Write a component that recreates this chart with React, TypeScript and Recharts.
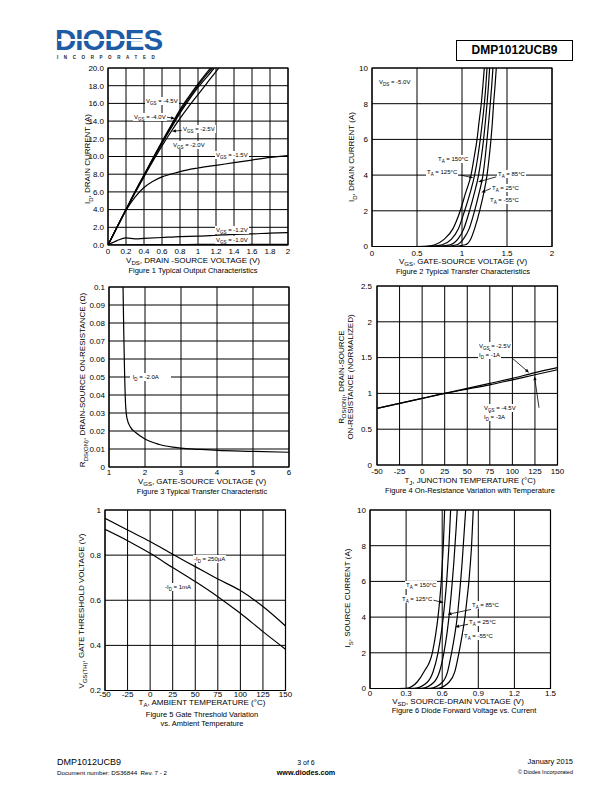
import React from 'react'
import {
  LineChart,
  Line,
  XAxis,
  YAxis,
  CartesianGrid,
  ReferenceLine,
  ReferenceArea,
} from 'recharts'

const FONT = '"Liberation Sans", Arial, Helvetica, sans-serif'

type Pt = { x: number; y: number }
const zip = (xs: number[], ys: number[]): Pt[] => xs.map((x, i) => ({ x, y: ys[i] }))

// ---- Figure 1: typical output characteristics (Vds, Id) ----
const f1X45 = [0, 0.1, 0.2, 0.3, 0.4, 0.5, 0.6, 0.7, 0.8, 0.9, 1.0, 1.1, 1.14]
const f1Y45 = [0, 2.0, 4.0, 6.0, 7.9, 9.8, 11.7, 13.5, 15.3, 16.8, 18.2, 19.5, 20]
const f1X40 = [0, 0.1, 0.2, 0.3, 0.4, 0.5, 0.6, 0.7, 0.8, 0.9, 1.0, 1.1, 1.16]
const f1Y40 = [0, 2.0, 4.0, 6.0, 7.9, 9.8, 11.6, 13.4, 15.1, 16.6, 18.0, 19.3, 20]
const f1X25 = [0, 0.1, 0.2, 0.3, 0.4, 0.5, 0.6, 0.7, 0.8, 0.9, 1.0, 1.1, 1.18]
const f1Y25 = [0, 2.0, 4.0, 5.9, 7.8, 9.7, 11.5, 13.2, 14.9, 16.4, 17.8, 19.0, 20]
const f1X20 = [0, 0.1, 0.2, 0.3, 0.4, 0.5, 0.6, 0.7, 0.8, 0.9, 1.0, 1.1, 1.2, 1.23]
const f1Y20 = [0, 2.0, 4.0, 5.9, 7.7, 9.5, 11.2, 12.8, 14.3, 15.7, 17.0, 18.3, 19.6, 20]
const f1X15 = [0, 0.1, 0.2, 0.3, 0.4, 0.5, 0.6, 0.7, 0.8, 1.0, 1.2, 1.4, 1.6, 1.8, 2.0]
const f1Y15 = [0, 2.0, 3.9, 5.4, 6.5, 7.2, 7.7, 8.0, 8.3, 8.7, 9.0, 9.3, 9.6, 9.9, 10.1]
const f1X12 = [0, 0.1, 0.2, 0.3, 0.4, 0.6, 0.8, 1.0, 1.2, 1.4, 1.6, 1.8, 2.0]
const f1Y12 = [0, 0.5, 0.8, 0.7, 0.75, 0.85, 0.95, 1.0, 1.1, 1.2, 1.25, 1.35, 1.4]
const f1X10 = [0, 0.2, 0.6, 1.0, 1.4, 2.0]
const f1Y10 = [0, 0.03, 0.05, 0.06, 0.07, 0.08]
const f1XTicks = [0, 0.2, 0.4, 0.6, 0.8, 1, 1.2, 1.4, 1.6, 1.8, 2]
const f1YTicks = [0, 2, 4, 6, 8, 10, 12, 14, 16, 18, 20]

// ---- Figure 2: transfer characteristics (Vgs, Id) ----
const f2X150 = [0.43, 0.6, 0.7, 0.8, 0.9, 0.98, 1.04, 1.1, 1.135, 1.167, 1.19, 1.214, 1.232, 1.248]
const f2Y150 = [0, 0.01, 0.1, 0.4, 1.0, 2.0, 3.0, 4.0, 5, 6, 7, 8, 9, 10]
const f2X125 = [0.48, 0.65, 0.78, 0.88, 0.96, 1.029, 1.09, 1.14, 1.175, 1.203, 1.227, 1.248, 1.265, 1.278]
const f2Y125 = [0, 0.01, 0.1, 0.4, 1.0, 2.0, 3.0, 4.0, 5, 6, 7, 8, 9, 10]
const f2X85 = [0.53, 0.72, 0.87, 0.96, 1.02, 1.084, 1.138, 1.184, 1.215, 1.24, 1.26, 1.278, 1.294, 1.307]
const f2Y85 = [0, 0.01, 0.1, 0.45, 1.0, 2.0, 3.0, 4, 5, 6, 7, 8, 9, 10]
const f2X25 = [0.58, 0.8, 0.944, 1.02, 1.08, 1.14, 1.19, 1.233, 1.258, 1.278, 1.297, 1.314, 1.33, 1.344]
const f2Y25 = [0, 0.01, 0.1, 0.45, 1.0, 2.0, 3, 4, 5, 6, 7, 8, 9, 10]
const f2Xm55 = [0.65, 0.88, 1.037, 1.1, 1.14, 1.196, 1.242, 1.278, 1.302, 1.322, 1.338, 1.351, 1.367, 1.381]
const f2Ym55 = [0, 0.01, 0.1, 0.45, 1.0, 2.0, 3, 4, 5, 6, 7, 8, 9, 10]
const f2XTicks = [0, 0.5, 1, 1.5, 2]
const f2YTicks = [0, 2, 4, 6, 8, 10]

// ---- Figure 3: Rds(on) vs Vgs ----
const f3Vgs = [1.39, 1.41, 1.43, 1.46, 1.5, 1.6, 1.75, 2.0, 2.4, 3.0, 3.5, 4.0, 5.0, 6.0]
const f3Rds = [0.1, 0.075, 0.055, 0.035, 0.027, 0.022, 0.019, 0.0155, 0.0125, 0.0105, 0.0098, 0.0092, 0.0087, 0.0082]
const f3XTicks = [1, 2, 3, 4, 5, 6]
const f3YTicks = [0, 0.01, 0.02, 0.03, 0.04, 0.05, 0.06, 0.07, 0.08, 0.09, 0.1]

// ---- Figure 4: normalized Rds(on) vs Tj ----
const f4Tj = [-50, -25, 0, 25, 50, 75, 100, 125, 150]
const f4Vgs25 = [0.79, 0.86, 0.93, 1.0, 1.07, 1.14, 1.21, 1.29, 1.36]
const f4Vgs45 = [0.79, 0.86, 0.93, 1.0, 1.06, 1.12, 1.19, 1.26, 1.33]
const f4XTicks = [-50, -25, 0, 25, 50, 75, 100, 125, 150]
const f4YTicks = [0, 0.5, 1, 1.5, 2, 2.5]

// ---- Figure 5: gate threshold vs Ta ----
const f5Ta = [-50, -25, 0, 25, 50, 75, 100, 125, 150]
const f5Id250u = [0.963, 0.911, 0.86, 0.804, 0.749, 0.694, 0.643, 0.572, 0.486]
const f5Id1m = [0.914, 0.864, 0.808, 0.745, 0.683, 0.616, 0.542, 0.461, 0.383]
const f5XTicks = [-50, -25, 0, 25, 50, 75, 100, 125, 150]
const f5YTicks = [0.2, 0.4, 0.6, 0.8, 1]

// ---- Figure 6: diode forward voltage ----
const f6X150 = [0.2, 0.3, 0.39, 0.45, 0.518, 0.545, 0.565, 0.58, 0.592, 0.601, 0.609, 0.615, 0.62]
const f6X125 = [0.25, 0.37, 0.476, 0.525, 0.565, 0.59, 0.609, 0.624, 0.637, 0.647, 0.656, 0.663, 0.67]
const f6X85 = [0.3, 0.43, 0.531, 0.578, 0.614, 0.638, 0.656, 0.671, 0.684, 0.696, 0.706, 0.716, 0.725]
const f6X25 = [0.38, 0.5, 0.601, 0.645, 0.678, 0.704, 0.725, 0.74, 0.753, 0.765, 0.775, 0.785, 0.795]
const f6Xm55 = [0.45, 0.56, 0.656, 0.705, 0.739, 0.766, 0.789, 0.806, 0.822, 0.834, 0.844, 0.851, 0.858]
const f6Is = [0, 0.01, 0.35, 0.95, 2, 3, 4, 5, 6, 7, 8, 9, 10]
const f6XTicks = [0, 0.3, 0.6, 0.9, 1.2, 1.5]
const f6YTicks = [0, 2, 4, 6, 8, 10]

const YW = 34
const MT = 5
const MR = 8
const XH = 16

function Arrow(p: any) {
  const { x1, y1, x2, y2 } = p
  if (![x1, y1, x2, y2].every((v) => typeof v === 'number' && isFinite(v))) return null
  const a = Math.atan2(y2 - y1, x2 - x1)
  const len = 4
  const half = 1.6
  const bx = x2 - len * Math.cos(a)
  const by = y2 - len * Math.sin(a)
  const tri = `${x2},${y2} ${bx + half * Math.sin(a)},${by - half * Math.cos(a)} ${bx - half * Math.sin(a)},${by + half * Math.cos(a)}`
  return (
    <g>
      <line x1={x1} y1={y1} x2={bx} y2={by} stroke="#000" strokeWidth={0.8} />
      <polygon points={tri} fill="#000" />
    </g>
  )
}

type PanelProps = {
  left: number
  top: number
  w: number
  h: number
  xDomain: [number, number]
  xTicks: number[]
  xFmt?: (v: number) => string
  xGap?: number
  yGap?: number
  yDomain: [number, number]
  yTicks: number[]
  yFmt?: (v: number) => string
  series: Pt[][]
  arrows?: [Pt, Pt][]
}

const tickStyle = { fill: '#000', fontSize: 8, fontFamily: FONT }

function Panel(p: PanelProps) {
  return (
    <div style={{ position: 'absolute', left: p.left - YW, top: p.top - MT }}>
      <LineChart
        width={YW + p.w + MR}
        height={MT + p.h + XH}
        margin={{ top: MT, right: MR, bottom: 0, left: 0 }}
      >
        <CartesianGrid stroke="#000" strokeWidth={1} />
        <XAxis
          type="number"
          dataKey="x"
          domain={p.xDomain}
          ticks={p.xTicks}
          interval={0}
          allowDataOverflow
          height={XH}
          axisLine={false}
          tickLine={false}
          tickSize={p.xGap ?? 3}
          tickMargin={0}
          tickFormatter={p.xFmt}
          tick={tickStyle}
        />
        <YAxis
          type="number"
          dataKey="y"
          domain={p.yDomain}
          ticks={p.yTicks}
          interval={0}
          allowDataOverflow
          width={YW}
          axisLine={false}
          tickLine={false}
          tickSize={p.yGap ?? 3}
          tickMargin={1}
          tickFormatter={p.yFmt}
          tick={tickStyle}
        />
        <ReferenceArea
          x1={p.xDomain[0]}
          x2={p.xDomain[1]}
          y1={p.yDomain[0]}
          y2={p.yDomain[1]}
          fill="none"
          stroke="#000"
          strokeWidth={1.2}
          fillOpacity={0}
          ifOverflow="visible"
        />
        {p.series.map((s, i) => (
          <Line
            key={i}
            data={s}
            dataKey="y"
            type="monotone"
            stroke="#000"
            strokeWidth={1.2}
            dot={false}
            activeDot={false}
            isAnimationActive={false}
          />
        ))}
        {(p.arrows || []).map(([a, b], i) => (
          <ReferenceLine key={'ar' + i} segment={[a, b]} shape={Arrow} ifOverflow="visible" />
        ))}
      </LineChart>
    </div>
  )
}

// small text helpers
function Sub({ children, size }: { children: React.ReactNode; size: number }) {
  return <span style={{ fontSize: size, verticalAlign: -size * 0.35, lineHeight: 0 }}>{children}</span>
}

function Txt({
  x,
  y,
  size = 8,
  align = 'c',
  bold,
  children,
}: {
  x: number
  y: number
  size?: number
  align?: 'l' | 'c' | 'r'
  bold?: boolean
  children: React.ReactNode
}) {
  const tx = align === 'l' ? '0' : align === 'c' ? '-50%' : '-100%'
  return (
    <div
      style={{
        position: 'absolute',
        left: x,
        top: y,
        transform: `translate(${tx}, -50%)`,
        fontSize: size,
        fontWeight: bold ? 'bold' : 'normal',
        whiteSpace: 'nowrap',
        lineHeight: 1,
        color: '#000',
      }}
    >
      {children}
    </div>
  )
}

function VTxt({ x, y, children }: { x: number; y: number; children: React.ReactNode }) {
  return (
    <div
      style={{
        position: 'absolute',
        left: x,
        top: y,
        transform: 'translate(-50%, -50%) rotate(-90deg)',
        fontSize: 8,
        whiteSpace: 'nowrap',
        lineHeight: 1.15,
        textAlign: 'center',
      }}
    >
      {children}
    </div>
  )
}

function Note({ x, y, children }: { x: number; y: number; children: React.ReactNode }) {
  return (
    <div
      style={{
        position: 'absolute',
        left: x,
        top: y,
        transform: 'translateY(-50%)',
        fontSize: 6,
        lineHeight: '8px',
        background: '#fff',
        padding: '0 1px',
        whiteSpace: 'nowrap',
      }}
    >
      {children}
    </div>
  )
}

const s = (t: string) => <Sub size={4.5}>{t}</Sub>
const a = (t: string) => <Sub size={6}>{t}</Sub>

export default function App() {
  return (
    <div
      style={{
        position: 'absolute',
        left: 0,
        top: 0,
        width: 612,
        height: 792,
        background: '#fff',
        fontFamily: FONT,
        color: '#000',
        overflow: 'hidden',
      }}
    >
      {/* header */}
      <div
        style={{
          position: 'absolute',
          left: 55,
          top: 28,
          fontSize: 29.5,
          fontWeight: 900,
          color: '#1f5ca6',
          letterSpacing: -1,
          lineHeight: '24px',
        }}
      >
        DIODES
      </div>
      <div style={{ position: 'absolute', left: 58, top: 39, width: 92, height: 1.5, background: '#fff' }} />
      <div
        style={{
          position: 'absolute',
          left: 57,
          top: 55,
          fontSize: 4.5,
          lineHeight: '5px',
          fontWeight: 'bold',
          letterSpacing: 5.6,
          color: '#222',
        }}
      >
        INCORPORATED
      </div>
      <div
        style={{
          position: 'absolute',
          left: 456,
          top: 40,
          width: 115,
          height: 19,
          border: '1px solid #000',
          fontSize: 12,
          fontWeight: 'bold',
          lineHeight: '19px',
          textAlign: 'center',
        }}
      >
        DMP1012UCB9
      </div>

      {/* Figure 1 */}
      <Panel
        left={107.5}
        top={68}
        w={180}
        h={177}
        xDomain={[0, 2]}
        xTicks={f1XTicks}
        xGap={3.5}
        yDomain={[0, 20]}
        yTicks={f1YTicks}
        yFmt={(v) => v.toFixed(1)}
        series={[
          zip(f1X45, f1Y45),
          zip(f1X40, f1Y40),
          zip(f1X25, f1Y25),
          zip(f1X20, f1Y20),
          zip(f1X15, f1Y15),
          zip(f1X12, f1Y12),
          zip(f1X10, f1Y10),
        ]}
        arrows={[
          [{ x: 0.65, y: 14.45 }, { x: 0.745, y: 14.3 }],
          [{ x: 0.82, y: 12.95 }, { x: 0.71, y: 12.85 }],
        ]}
      />
      <Note x={145} y={101}>V{s('GS')} = -4.5V</Note>
      <Note x={133} y={117}>V{s('GS')} = -4.0V</Note>
      <Note x={182} y={129}>V{s('GS')} = -2.5V</Note>
      <Note x={172} y={145}>V{s('GS')} = -2.0V</Note>
      <Note x={215} y={155}>V{s('GS')} = -1.5V</Note>
      <Note x={215} y={230}>V{s('GS')} = -1.2V</Note>
      <Note x={215} y={240}>V{s('GS')} = -1.0V</Note>
      <VTxt x={88} y={159}>
        I{a('D')}, DRAIN CURRENT (A)
      </VTxt>
      <Txt x={193} y={261}>
        V{a('DS')}, DRAIN -SOURCE VOLTAGE (V)
      </Txt>
      <Txt x={193} y={270.5} size={7.5}>
        Figure 1 Typical Output Characteristics
      </Txt>

      {/* Figure 2 */}
      <Panel
        left={371.5}
        top={68}
        w={180}
        h={178.5}
        xDomain={[0, 2]}
        xTicks={f2XTicks}
        xGap={4}
        yDomain={[0, 10]}
        yTicks={f2YTicks}
        series={[
          zip(f2X150, f2Y150),
          zip(f2X125, f2Y125),
          zip(f2X85, f2Y85),
          zip(f2X25, f2Y25),
          zip(f2Xm55, f2Ym55),
        ]}
        arrows={[
          [{ x: 0.985, y: 4.0 }, { x: 1.125, y: 3.85 }],
          [{ x: 1.38, y: 3.9 }, { x: 1.18, y: 3.62 }],
          [{ x: 1.32, y: 3.25 }, { x: 1.215, y: 3.02 }],
        ]}
      />
      <Note x={378} y={82}>V{s('DS')} = -5.0V</Note>
      <Note x={437} y={159}>T{s('A')} = 150°C</Note>
      <Note x={426} y={172}>T{s('A')} = 125°C</Note>
      <Note x={497} y={174}>T{s('A')} = 85°C</Note>
      <Note x={491} y={188}>T{s('A')} = 25°C</Note>
      <Note x={489} y={200}>T{s('A')} = -55°C</Note>
      <VTxt x={352} y={157}>
        I{a('D')}, DRAIN CURRENT (A)
      </VTxt>
      <Txt x={463} y={262}>
        V{a('GS')}, GATE-SOURCE VOLTAGE (V)
      </Txt>
      <Txt x={463} y={271.5} size={7.5}>
        Figure 2 Typical Transfer Characteristics
      </Txt>

      {/* Figure 3 */}
      <Panel
        left={109}
        top={287}
        w={180}
        h={180}
        xDomain={[1, 6]}
        xTicks={f3XTicks}
        xGap={2}
        yDomain={[0, 0.1]}
        yTicks={f3YTicks}
        yFmt={(v) => String(v)}
        series={[zip(f3Vgs, f3Rds)]}
      />
      <Note x={130} y={377}>
        &nbsp;I{s('D')} = -2.0A&nbsp;&nbsp;&nbsp;&nbsp;&nbsp;&nbsp;&nbsp;
      </Note>
      <VTxt x={83} y={380}>
        R{a('DS(ON)')}, DRAIN-SOURCE ON-RESISTANCE (Ω)
      </VTxt>
      <Txt x={202} y={482}>
        V{a('GS')}, GATE-SOURCE VOLTAGE (V)
      </Txt>
      <Txt x={202} y={491.5} size={7.5}>
        Figure 3 Typical Transfer Characteristic
      </Txt>

      {/* Figure 4 */}
      <Panel
        left={376.5}
        top={286}
        w={180.5}
        h={179}
        xDomain={[-50, 150]}
        xTicks={f4XTicks}
        xGap={3.5}
        yGap={4}
        yDomain={[0, 2.5]}
        yTicks={f4YTicks}
        series={[zip(f4Tj, f4Vgs25), zip(f4Tj, f4Vgs45)]}
        arrows={[
          [{ x: 100, y: 1.49 }, { x: 118.5, y: 1.29 }],
          [{ x: 129.5, y: 0.8 }, { x: 124.5, y: 1.24 }],
        ]}
      />
      <Note x={478} y={346}>V{s('GS')} = -2.5V</Note>
      <Note x={478} y={355}>I{s('D')} = -1A</Note>
      <Note x={483} y={408}>V{s('GS')} = -4.5V</Note>
      <Note x={483} y={417}>I{s('D')} = -3A</Note>
      <VTxt x={346} y={377}>
        R{a('DS(ON)')}, DRAIN-SOURCE
        <br />
        ON-RESISTANCE (NORMALIZED)
      </VTxt>
      <Txt x={470} y={481}>
        T{a('J')}, JUNCTION TEMPERATURE (°C)
      </Txt>
      <Txt x={470} y={491} size={7.5}>
        Figure 4 On-Resistance Variation with Temperature
      </Txt>

      {/* Figure 5 */}
      <Panel
        left={105}
        top={510}
        w={180.5}
        h={180.5}
        xDomain={[-50, 150]}
        xTicks={f5XTicks}
        xGap={1}
        yDomain={[0.2, 1]}
        yTicks={f5YTicks}
        yFmt={(v) => String(v)}
        series={[zip(f5Ta, f5Id250u), zip(f5Ta, f5Id1m)]}
      />
      <Note x={193} y={559}>-I{s('D')} = 250µA</Note>
      <Note x={164} y={587}>-I{s('D')} = 1mA</Note>
      <VTxt x={82} y={611}>
        V{a('GS(TH)')}, GATE THRESHOLD VOLTAGE (V)
      </VTxt>
      <Txt x={202} y={703}>
        T{a('A')}, AMBIENT TEMPERATURE (°C)
      </Txt>
      <Txt x={202} y={715} size={7.5}>
        Figure 5 Gate Threshold Variation
      </Txt>
      <Txt x={202} y={723.5} size={7.5}>
        vs. Ambient Temperature
      </Txt>

      {/* Figure 6 */}
      <Panel
        left={369.5}
        top={510}
        w={180.5}
        h={178.5}
        xDomain={[0, 1.5]}
        xTicks={f6XTicks}
        xGap={1.5}
        yDomain={[0, 10]}
        yTicks={f6YTicks}
        series={[
          zip(f6X150, f6Is),
          zip(f6X125, f6Is),
          zip(f6X85, f6Is),
          zip(f6X25, f6Is),
          zip(f6Xm55, f6Is),
        ]}
        arrows={[
          [{ x: 0.527, y: 4.95 }, { x: 0.612, y: 4.8 }],
          [{ x: 0.84, y: 4.43 }, { x: 0.645, y: 4.15 }],
          [{ x: 0.815, y: 3.6 }, { x: 0.708, y: 3.45 }],
        ]}
      />
      <Note x={405} y={585}>T{s('A')} = 150°C</Note>
      <Note x={401} y={599}>T{s('A')} = 125°C</Note>
      <Note x={471} y={605}>T{s('A')} = 85°C</Note>
      <Note x={468} y={622}>T{s('A')} = 25°C</Note>
      <Note x={463} y={636}>T{s('A')} = -55°C</Note>
      <VTxt x={348} y={598}>
        I{a('S')}, SOURCE CURRENT (A)
      </VTxt>
      <Txt x={458} y={702}>
        V{a('SD')}, SOURCE-DRAIN VOLTAGE (V)
      </Txt>
      <Txt x={464} y={711} size={7.5}>
        Figure 6 Diode Forward Voltage vs. Current
      </Txt>

      {/* footer */}
      <Txt x={57} y={762} size={9} align="l">
        DMP1012UCB9
      </Txt>
      <Txt x={57} y={773} size={6.2} align="l">
        Document number: DS36844&nbsp; Rev. 7 - 2
      </Txt>
      <Txt x={306} y={762} size={7}>
        3 of 6
      </Txt>
      <Txt x={306} y={773} size={7.2} bold>
        www.diodes.com
      </Txt>
      <Txt x={573} y={762} size={7.5} align="r">
        January 2015
      </Txt>
      <Txt x={573} y={772.5} size={5.5} align="r">
        © Diodes Incorporated
      </Txt>
    </div>
  )
}
